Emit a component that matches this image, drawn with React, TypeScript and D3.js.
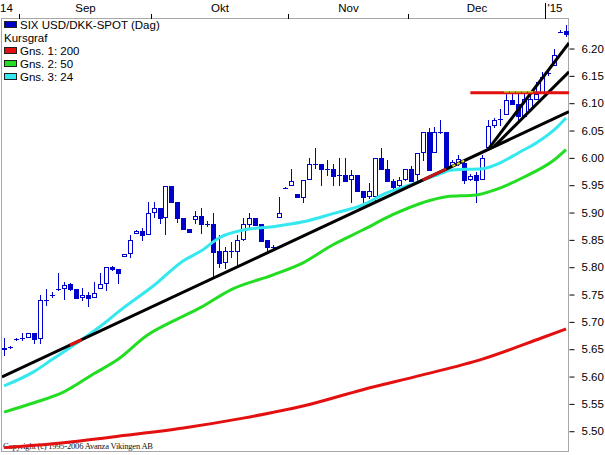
import { useEffect, useRef } from "react";
import * as d3 from "d3";

// daily candles: [date, open, high, low, close]
const candles: [string, number, number, number, number][] = [
  ["2014-08-27", 5.651, 5.671, 5.640, 5.652],
  ["2014-08-28", 5.654, 5.656, 5.652, 5.654],
  ["2014-08-29", 5.669, 5.671, 5.667, 5.669],
  ["2014-09-01", 5.671, 5.680, 5.667, 5.671],
  ["2014-09-02", 5.673, 5.680, 5.673, 5.680],
  ["2014-09-03", 5.680, 5.680, 5.662, 5.669],
  ["2014-09-04", 5.671, 5.749, 5.662, 5.740],
  ["2014-09-05", 5.740, 5.760, 5.731, 5.740],
  ["2014-09-08", 5.749, 5.755, 5.746, 5.749],
  ["2014-09-09", 5.760, 5.790, 5.759, 5.760],
  ["2014-09-10", 5.762, 5.773, 5.742, 5.768],
  ["2014-09-11", 5.770, 5.771, 5.759, 5.760],
  ["2014-09-12", 5.760, 5.760, 5.744, 5.744],
  ["2014-09-15", 5.746, 5.762, 5.740, 5.749],
  ["2014-09-16", 5.749, 5.755, 5.729, 5.744],
  ["2014-09-17", 5.746, 5.773, 5.746, 5.753],
  ["2014-09-18", 5.762, 5.790, 5.762, 5.770],
  ["2014-09-19", 5.771, 5.801, 5.759, 5.801],
  ["2014-09-22", 5.801, 5.802, 5.795, 5.797],
  ["2014-09-23", 5.797, 5.797, 5.771, 5.790],
  ["2014-09-24", 5.821, 5.824, 5.821, 5.824],
  ["2014-09-25", 5.826, 5.859, 5.819, 5.850],
  ["2014-09-26", 5.863, 5.868, 5.863, 5.866],
  ["2014-09-29", 5.866, 5.872, 5.850, 5.859],
  ["2014-09-30", 5.861, 5.920, 5.861, 5.899],
  ["2014-10-01", 5.901, 5.920, 5.892, 5.909],
  ["2014-10-02", 5.909, 5.909, 5.881, 5.890],
  ["2014-10-03", 5.892, 5.949, 5.861, 5.949],
  ["2014-10-06", 5.949, 5.949, 5.920, 5.920],
  ["2014-10-07", 5.920, 5.920, 5.883, 5.890],
  ["2014-10-08", 5.890, 5.890, 5.870, 5.870],
  ["2014-10-09", 5.870, 5.870, 5.865, 5.865],
  ["2014-10-10", 5.888, 5.903, 5.881, 5.894],
  ["2014-10-13", 5.894, 5.909, 5.863, 5.879],
  ["2014-10-14", 5.879, 5.885, 5.876, 5.879],
  ["2014-10-15", 5.879, 5.899, 5.782, 5.828],
  ["2014-10-16", 5.830, 5.859, 5.801, 5.808],
  ["2014-10-17", 5.810, 5.837, 5.799, 5.830],
  ["2014-10-20", 5.830, 5.846, 5.819, 5.830],
  ["2014-10-21", 5.830, 5.859, 5.801, 5.850],
  ["2014-10-22", 5.852, 5.890, 5.850, 5.879],
  ["2014-10-23", 5.879, 5.899, 5.872, 5.890],
  ["2014-10-24", 5.890, 5.890, 5.877, 5.877],
  ["2014-10-27", 5.879, 5.879, 5.848, 5.848],
  ["2014-10-28", 5.850, 5.850, 5.832, 5.837],
  ["2014-10-29", 5.837, 5.841, 5.832, 5.837],
  ["2014-10-30", 5.892, 5.929, 5.892, 5.899],
  ["2014-10-31", 5.945, 5.946, 5.944, 5.945],
  ["2014-11-03", 5.951, 5.980, 5.951, 5.958],
  ["2014-11-04", 5.934, 5.934, 5.929, 5.929],
  ["2014-11-05", 5.929, 5.960, 5.920, 5.960],
  ["2014-11-06", 5.962, 6.000, 5.962, 5.989],
  ["2014-11-07", 5.989, 6.018, 5.982, 5.989],
  ["2014-11-10", 5.989, 5.989, 5.951, 5.980],
  ["2014-11-11", 5.980, 5.996, 5.969, 5.980],
  ["2014-11-12", 5.980, 5.989, 5.951, 5.967],
  ["2014-11-13", 5.969, 6.000, 5.951, 5.969],
  ["2014-11-14", 5.969, 6.000, 5.958, 5.958],
  ["2014-11-17", 5.962, 5.978, 5.920, 5.969],
  ["2014-11-18", 5.969, 5.969, 5.940, 5.940],
  ["2014-11-19", 5.940, 5.940, 5.920, 5.929],
  ["2014-11-20", 5.930, 5.954, 5.927, 5.940],
  ["2014-11-21", 5.930, 6.000, 5.920, 6.000],
  ["2014-11-24", 6.000, 6.018, 5.980, 5.980],
  ["2014-11-25", 5.980, 5.996, 5.958, 5.958],
  ["2014-11-26", 5.958, 5.962, 5.941, 5.947],
  ["2014-11-27", 5.951, 5.965, 5.941, 5.960],
  ["2014-11-28", 5.962, 5.980, 5.960, 5.980],
  ["2014-12-01", 5.980, 5.985, 5.958, 5.958],
  ["2014-12-02", 5.971, 6.009, 5.960, 6.009],
  ["2014-12-03", 6.011, 6.048, 5.996, 6.048],
  ["2014-12-04", 6.048, 6.055, 5.978, 5.978],
  ["2014-12-05", 6.011, 6.057, 6.011, 6.048],
  ["2014-12-08", 6.048, 6.070, 6.046, 6.048],
  ["2014-12-09", 6.048, 6.048, 5.984, 5.984],
  ["2014-12-10", 5.985, 5.996, 5.985, 5.993],
  ["2014-12-11", 5.991, 6.005, 5.987, 5.998],
  ["2014-12-12", 5.991, 5.993, 5.954, 5.960],
  ["2014-12-15", 5.962, 5.971, 5.960, 5.967],
  ["2014-12-16", 5.969, 5.974, 5.920, 5.960],
  ["2014-12-17", 5.962, 6.005, 5.962, 6.000],
  ["2014-12-18", 6.020, 6.070, 6.020, 6.059],
  ["2014-12-19", 6.060, 6.073, 6.057, 6.070],
  ["2014-12-22", 6.071, 6.090, 6.060, 6.071],
  ["2014-12-23", 6.080, 6.119, 6.080, 6.106],
  ["2014-12-24", 6.106, 6.119, 6.099, 6.099],
  ["2014-12-25", 6.099, 6.119, 6.070, 6.077],
  ["2014-12-26", 6.077, 6.119, 6.075, 6.108],
  ["2014-12-29", 6.090, 6.119, 6.090, 6.108],
  ["2014-12-30", 6.108, 6.139, 6.108, 6.117],
  ["2014-12-31", 6.119, 6.157, 6.119, 6.148],
  ["2015-01-01", 6.155, 6.161, 6.152, 6.155],
  ["2015-01-02", 6.170, 6.199, 6.170, 6.188],
  ["2015-01-05", 6.230, 6.234, 6.230, 6.230],
  ["2015-01-06", 6.232, 6.243, 6.223, 6.227],
];

// moving averages
const ma200: [string, number][] = [
  ["2014-08-27", 5.470], ["2014-09-10", 5.479], ["2014-09-24", 5.492],
  ["2014-10-08", 5.506], ["2014-10-22", 5.524], ["2014-11-05", 5.546],
  ["2014-11-19", 5.576], ["2014-12-03", 5.603], ["2014-12-17", 5.632],
  ["2014-12-31", 5.671], ["2015-01-06", 5.687],
];
const ma50: [string, number][] = [
  ["2014-08-27", 5.535], ["2014-09-03", 5.552], ["2014-09-10", 5.572],
  ["2014-09-17", 5.605], ["2014-09-23", 5.631], ["2014-09-30", 5.676],
  ["2014-10-06", 5.700], ["2014-10-13", 5.727], ["2014-10-20", 5.759],
  ["2014-10-29", 5.786], ["2014-11-05", 5.808], ["2014-11-12", 5.841],
  ["2014-11-19", 5.868], ["2014-11-26", 5.896], ["2014-12-03", 5.918],
  ["2014-12-09", 5.929], ["2014-12-16", 5.932], ["2014-12-19", 5.941],
  ["2014-12-26", 5.965], ["2015-01-02", 5.996], ["2015-01-06", 6.015],
];
const ma24: [string, number][] = [
  ["2014-08-27", 5.583], ["2014-09-03", 5.609], ["2014-09-08", 5.631],
  ["2014-09-12", 5.660], ["2014-09-18", 5.691], ["2014-09-24", 5.726],
  ["2014-10-01", 5.766], ["2014-10-08", 5.812], ["2014-10-13", 5.830],
  ["2014-10-16", 5.854], ["2014-10-22", 5.868], ["2014-10-29", 5.874],
  ["2014-11-05", 5.883], ["2014-11-12", 5.898], ["2014-11-19", 5.914],
  ["2014-11-25", 5.936], ["2014-12-01", 5.951], ["2014-12-05", 5.967],
  ["2014-12-10", 5.978], ["2014-12-17", 5.980], ["2014-12-22", 5.991],
  ["2014-12-25", 6.009], ["2014-12-30", 6.027], ["2015-01-02", 6.051],
  ["2015-01-06", 6.073],
];

// drawn trend lines: two anchors each, optionally run out to the frame
type Trend = { from: [string, number]; to: [string, number]; left: boolean; right: boolean; color: string };
const trendLines: Trend[] = [
  { from: ["2014-08-27", 5.601], to: ["2015-01-06", 6.082], left: true, right: true, color: "#000" },
  { from: ["2014-12-18", 6.016], to: ["2015-01-06", 6.203], left: false, right: true, color: "#000" },
  { from: ["2014-12-19", 6.021], to: ["2015-01-06", 6.152], left: false, right: true, color: "#000" },
  { from: ["2014-12-15", 6.119], to: ["2015-01-06", 6.119], left: false, right: true, color: "#e41010" },
];
// coloured stretches of the long trend line
const touchSegments: [string, string, string][] = [
  ["2014-09-11", "2014-09-15", "#e41010"],
  ["2014-12-03", "2014-12-09", "#c81414"],
  ["2014-12-10", "2014-12-12", "#e8e020"],
];

const monthStarts = ["2014-09-01", "2014-10-01", "2014-11-03", "2014-12-01", "2015-01-01"];
const monthLabels = ["Sep", "Okt", "Nov", "Dec"];
const yTicks = [6.2, 6.15, 6.1, 6.05, 6.0, 5.95, 5.9, 5.85, 5.8, 5.75, 5.7, 5.65, 5.6, 5.55, 5.5];

const legend: [string, string][] = [
  ["SIX USD/DKK-SPOT (Dag)", "#0000c8"],
  ["Kursgraf", ""],
  ["Gns. 1: 200", "#e41010"],
  ["Gns. 2: 50", "#22dd22"],
  ["Gns. 3: 24", "#33e8ee"],
];

const BLUE = "#0000cc";
const FONT = "'Liberation Sans', Arial, sans-serif";

export default function App() {
  const ref = useRef<SVGSVGElement | null>(null);

  useEffect(() => {
    if (!ref.current) return;
    const svg = d3.select(ref.current);
    svg.selectAll("*").remove();

    const left = 2, right = 569, top = 19, bottom = 452;
    const idx = new Map(candles.map((c, i) => [c[0], i]));
    const ix = (d: string) => idx.get(d) ?? 0;
    const x = d3.scaleLinear().domain([-0.35, candles.length - 0.5]).range([left, right]);
    const y = d3.scaleLinear().domain([5.462, 6.254]).range([bottom, top]);

    svg.append("rect").attr("width", 605).attr("height", 455).attr("fill", "#fff");

    // copyright under everything
    svg.append("text").attr("x", 3).attr("y", 449)
      .attr("font-family", "'Liberation Serif', 'Times New Roman', serif")
      .attr("font-size", 8.5).attr("textLength", 150).attr("fill", "#111")
      .text("Copyright (c) 1995-2006 Avanza Vikingen AB");

    // frame
    svg.append("rect").attr("x", left - 0.5).attr("y", top - 0.5)
      .attr("width", right - left).attr("height", bottom - top)
      .attr("fill", "none").attr("stroke", "#a8a8a8");

    // top time axis
    const tickX = monthStarts.map((d) => Math.round(x(ix(d) - 0.5)) + 0.5);
    const topAxis = svg.append("g").attr("font-family", FONT).attr("font-size", 11.5).attr("fill", "#000");
    tickX.forEach((tx, i) => {
      const isYear = i === tickX.length - 1;
      topAxis.append("line").attr("x1", tx).attr("x2", tx)
        .attr("y1", isYear ? 3 : 14).attr("y2", top).attr("stroke", "#000");
    });
    monthLabels.forEach((m, i) => {
      topAxis.append("text").attr("x", (tickX[i] + tickX[i + 1]) / 2).attr("y", 12)
        .attr("text-anchor", "middle").text(m);
    });
    topAxis.append("text").attr("x", tickX[tickX.length - 1] + 2).attr("y", 12).text("'15");
    topAxis.append("text").attr("x", 0).attr("y", 12).text("14");

    // right price axis
    svg.append("g").attr("transform", `translate(${right + 0.5},0)`)
      .call(d3.axisRight(y).tickValues(yTicks).tickSize(5).tickPadding(7).tickFormat(d3.format(".2f")))
      .call((a) => a.select(".domain").remove())
      .call((a) => a.selectAll("line").attr("stroke", "#000"))
      .call((a) => a.selectAll("text").attr("fill", "#000").style("font-family", FONT).style("font-size", "11.5px"));

    const plot = svg.append("g");
    svg.append("clipPath").attr("id", "plotclip").append("rect")
      .attr("x", left).attr("y", top).attr("width", right - left).attr("height", bottom - top);
    plot.attr("clip-path", "url(#plotclip)");

    // candles
    const cg = plot.append("g").attr("shape-rendering", "crispEdges");
    candles.forEach(([d, o, h, l, c]) => {
      const cx = Math.round(x(ix(d))) + 0.5;
      cg.append("line").attr("x1", cx).attr("x2", cx)
        .attr("y1", Math.round(y(h))).attr("y2", Math.round(y(l)) + 1).attr("stroke", BLUE);
      const bt = Math.round(y(Math.max(o, c)));
      const bb = Math.round(y(Math.min(o, c)));
      if (bb - bt < 1) {
        cg.append("line").attr("x1", cx - 2.5).attr("x2", cx + 2.5)
          .attr("y1", bt + 0.5).attr("y2", bt + 0.5).attr("stroke", BLUE);
      } else {
        cg.append("rect").attr("x", cx - 2).attr("y", bt + 0.5)
          .attr("width", 4).attr("height", bb - bt)
          .attr("fill", c >= o ? "#fff" : BLUE).attr("stroke", BLUE);
      }
    });

    // moving averages
    const maLine = d3.line<[string, number]>()
      .x((p) => x(ix(p[0])))
      .y((p) => y(p[1]))
      .curve(d3.curveMonotoneX);
    ([[ma200, "#e41010"], [ma50, "#22dd22"], [ma24, "#33e8ee"]] as [[string, number][], string][])
      .forEach(([s, col]) => {
        plot.append("path").datum(s).attr("d", maLine).attr("fill", "none")
          .attr("stroke", col).attr("stroke-width", 3).attr("stroke-linejoin", "round");
      });

    // trend lines
    trendLines.forEach((t) => {
      let x1 = x(ix(t.from[0])), y1 = y(t.from[1]);
      let x2 = x(ix(t.to[0])), y2 = y(t.to[1]);
      const k = (y2 - y1) / (x2 - x1);
      if (t.left) { y1 = y1 + k * (left - x1); x1 = left; }
      if (t.right) { y2 = y2 + k * (right - x2); x2 = right; }
      plot.append("line").attr("x1", x1).attr("y1", y1).attr("x2", x2).attr("y2", y2)
        .attr("stroke", t.color).attr("stroke-width", 3);
    });

    // coloured touches on the long trend line
    const main = trendLines[0];
    const trendAt = d3.scaleLinear()
      .domain([ix(main.from[0]), ix(main.to[0])])
      .range([main.from[1], main.to[1]]);
    touchSegments.forEach(([a, b, col], i) => {
      plot.append("line")
        .attr("x1", x(ix(a))).attr("y1", y(trendAt(ix(a))))
        .attr("x2", x(ix(b))).attr("y2", y(trendAt(ix(b))))
        .attr("stroke", col).attr("stroke-width", i === 2 ? 2 : 3)
        .attr("stroke-dasharray", i === 2 ? "3 2" : null);
    });

    // highs touching the horizontal line
    const level = trendLines[3].from[1];
    candles.filter((c) => Math.abs(c[2] - level) < 0.001).forEach(([d]) => {
      const cx = Math.round(x(ix(d)));
      plot.append("line").attr("x1", cx - 2).attr("x2", cx + 3)
        .attr("y1", y(level) - 1).attr("y2", y(level) - 1)
        .attr("stroke", "#b8cc30").attr("stroke-width", 1.5);
    });

    // legend
    const lg = svg.append("g").attr("font-family", FONT).attr("font-size", 11.5).attr("fill", "#000");
    legend.forEach(([label, col], i) => {
      const cy = 25 + i * 13;
      if (col) {
        lg.append("rect").attr("x", 4.5).attr("y", cy - 3.5).attr("width", 12).attr("height", 6)
          .attr("fill", col).attr("stroke", "#202020");
      }
      lg.append("text").attr("x", col ? 20 : 4).attr("y", cy + 4).text(label);
    });
  }, []);

  return (
    <svg ref={ref} width={605} height={455}
      style={{ position: "absolute", left: 0, top: 0, display: "block" }} />
  );
}
